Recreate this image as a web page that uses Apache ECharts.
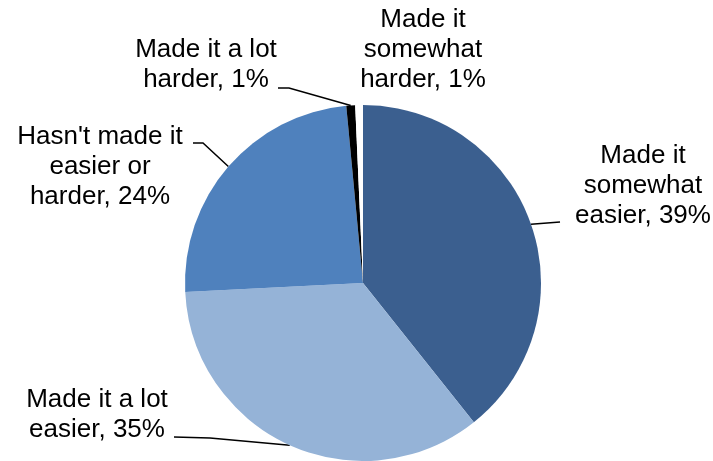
<!DOCTYPE html>
<html>
<head>
<meta charset="utf-8">
<script src="https://cdn.jsdelivr.net/npm/echarts@6/dist/echarts.min.js"></script>
<style>html,body{margin:0;padding:0;background:#fff}#c{width:713px;height:461px}</style>
</head>
<body>
<div id="c"></div>
<script>
const categories = ['Made it somewhat easier', 'Made it a lot easier', "Hasn't made it easier or harder", 'Made it a lot harder', 'Made it somewhat harder'];
const values = [39.3, 34.9, 24.3, 0.8, 0.7];
const percentLabels = ['39%', '35%', '24%', '1%', '1%'];
const labelLines = [
  ['Made it', 'somewhat', 'easier, '],
  ['Made it a lot', 'easier, '],
  ["Hasn't made it", 'easier or', 'harder, '],
  ['Made it a lot', 'harder, '],
  ['Made it', 'somewhat', 'harder, ']
];
const colors = ['#3B5F8F', '#95B3D7', '#4F81BD', '#000000', '#FFFFFF'];
const labelCenters = [[643, 186], [97, 415], [100, 167], [206, 65], [423, 50]];
// leader-line bend/end points near each label (null = no leader)
const leaderEnds = [[[560, 222]], [[210, 438], [174, 437]], [[203, 143], [193, 143]], [[289, 88], [278, 88]], null];

const chart = echarts.init(document.getElementById('c'), null, {renderer: 'canvas'});
chart.setOption({
  animation: false,
  series: [{
    type: 'pie',
    center: [363, 283],
    radius: 178,
    startAngle: 90,
    clockwise: true,
    avoidLabelOverlap: false,
    data: categories.map((n, i) => ({
      name: n, value: values[i],
      itemStyle: {color: colors[i]},
      label: {formatter: labelLines[i].join('\n') + percentLabels[i]},
      labelLine: {show: leaderEnds[i] !== null}
    })),
    label: {
      show: true, position: 'outside',
      fontFamily: 'Liberation Sans, Arial, sans-serif',
      fontSize: 26, lineHeight: 30, color: '#000', align: 'center'
    },
    labelLine: {show: true, length: 10, length2: 10, lineStyle: {color: '#000', width: 1.5}},
    labelLayout: function (p) {
      const c = labelCenters[p.dataIndex];
      const res = {x: c[0], y: c[1], align: 'center', verticalAlign: 'middle'};
      const le = leaderEnds[p.dataIndex];
      if (le && p.labelLinePoints) {
        res.labelLinePoints = [p.labelLinePoints[0]].concat(le);
      }
      return res;
    },
    emphasis: {disabled: true}
  }]
});
</script>
</body>
</html>
